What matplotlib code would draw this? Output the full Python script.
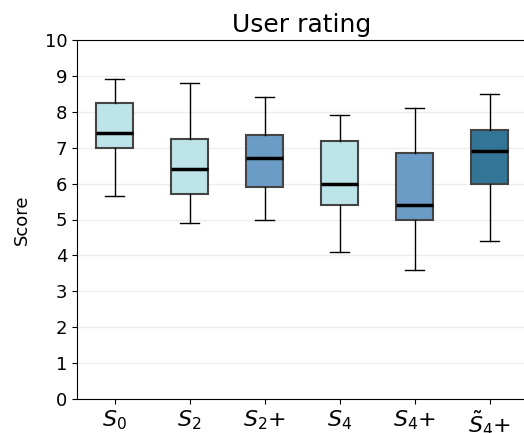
import numpy as np
import matplotlib.pyplot as plt

# 方法名称与箱线图统计量
labels = [r'$S_0$', r'$S_2$', r'$S_2$+', r'$S_4$', r'$S_4$+', r'$\tilde{S}_4$+']
whislo = [5.65, 4.9, 5.0, 4.1, 3.6, 4.4]
q1 = [7.0, 5.7, 5.9, 5.4, 5.0, 6.0]
med = [7.4, 6.4, 6.7, 6.0, 5.4, 6.9]
q3 = [8.25, 7.25, 7.35, 7.2, 6.85, 7.5]
whishi = [8.9, 8.8, 8.4, 7.9, 8.1, 8.5]
box_colors = ['#bde4e9', '#bde4e9', '#6a9cc6', '#bde4e9', '#6a9cc6', '#337597']

stats = []
for i in range(len(labels)):
    stats.append({'label': labels[i], 'whislo': whislo[i], 'q1': q1[i], 'med': med[i],
                  'q3': q3[i], 'whishi': whishi[i], 'fliers': []})

fig = plt.figure(figsize=(5.24, 4.33), dpi=100)
ax = fig.add_axes([77 / 524, 1 - 399 / 433, 450 / 524, 359 / 433])

bp = ax.bxp(stats, positions=np.arange(1, len(labels) + 1), widths=0.5, patch_artist=True,
            showfliers=False,
            boxprops=dict(edgecolor='#444444', linewidth=1.5),
            medianprops=dict(color='black', linewidth=2.5),
            whiskerprops=dict(color='black', linewidth=1),
            capprops=dict(color='black', linewidth=1))
for patch, c in zip(bp['boxes'], box_colors):
    patch.set_facecolor(c)

ax.set_ylim(0, 10)
ax.set_xlim(0.5, len(labels) + 0.5)
ax.set_yticks(range(0, 11))
ax.yaxis.grid(True, color='#eeeeee', linewidth=1)
ax.set_axisbelow(True)
ax.spines['right'].set_visible(False)
ax.tick_params(axis='y', labelsize=13)
ax.tick_params(axis='x', labelsize=16)
ax.set_ylabel('Score', fontsize=13, labelpad=10)
ax.set_title('User rating', fontsize=18)

plt.savefig('out.png', dpi=100)
